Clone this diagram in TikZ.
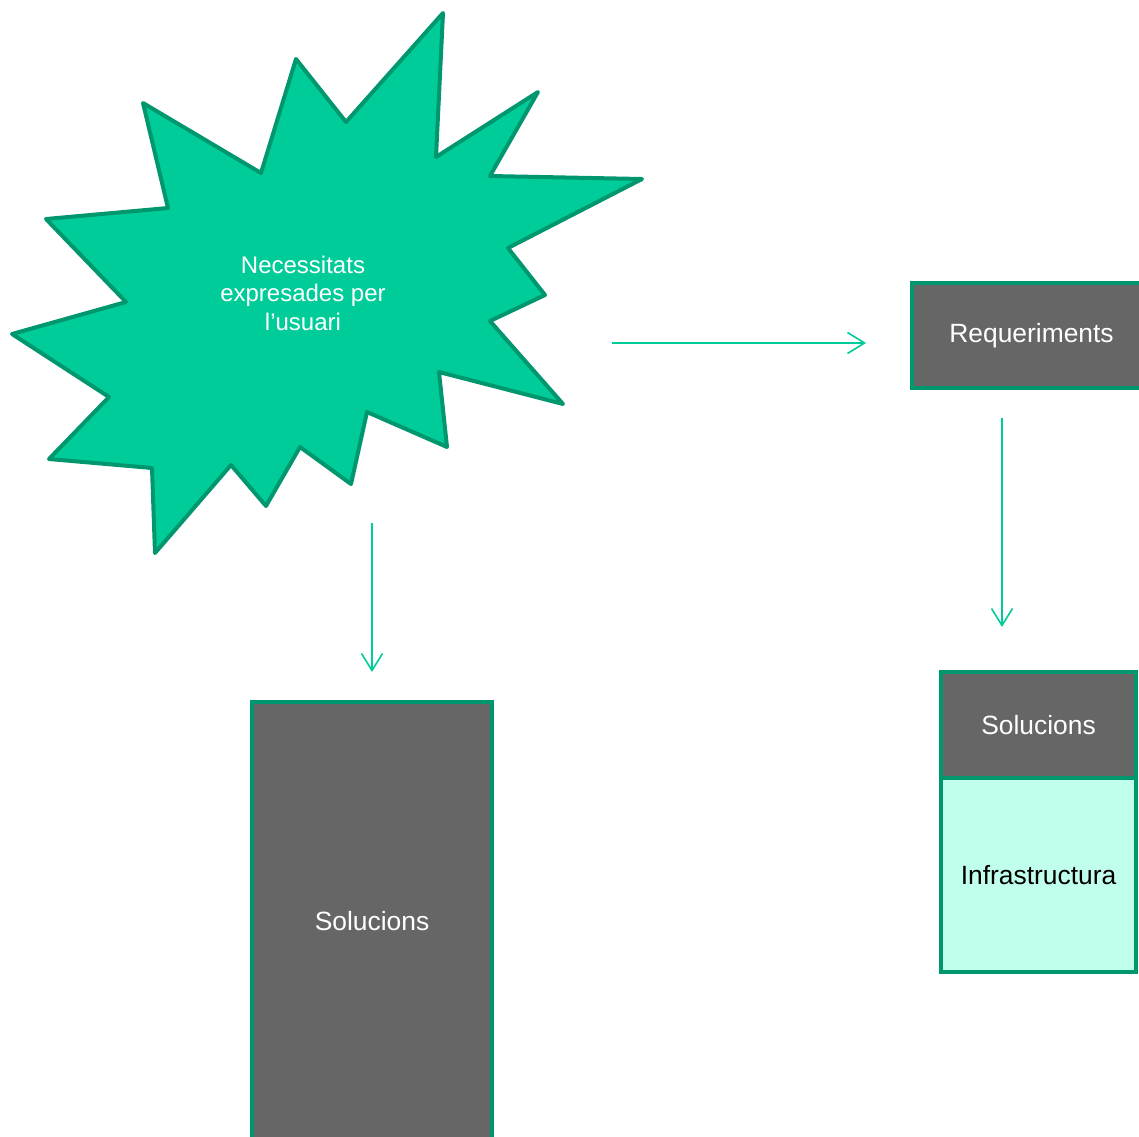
\documentclass[tikz,border=0pt]{standalone}
\usepackage{fontspec}
\setmainfont{Liberation Sans}
\usetikzlibrary{arrows.meta}
\definecolor{starfill}{RGB}{0,204,153}
\definecolor{edgegreen}{RGB}{0,150,110}
\definecolor{arrowgreen}{RGB}{0,204,153}
\definecolor{boxgray}{RGB}{102,102,102}
\definecolor{mint}{RGB}{192,255,236}
\tikzset{
  starshape/.style={fill=starfill, draw=edgegreen, line width=4pt, line join=round},
  graybox/.style={rectangle, fill=boxgray, draw=edgegreen, line width=4pt, inner sep=0pt,
    text=white, font=\fontsize{26.4}{31}\selectfont},
  mintbox/.style={rectangle, fill=mint, draw=edgegreen, line width=4pt, inner sep=0pt,
    text=black, font=\fontsize{26.4}{31}\selectfont},
  flow/.style={draw=arrowgreen, line width=1.6pt, -{Straight Barb[length=17pt,width=21pt,line width=1.6pt]}},
}
\begin{document}
\begin{tikzpicture}[x=1pt,y=-1pt]
\useasboundingbox (0,0) rectangle (1139,1136);
% star
\draw[starshape] (443,13) -- (436,157) -- (538,92) -- (490,176) -- (642,179) -- (508,248)
  -- (545,295) -- (490,321) -- (563,404) -- (439,372) -- (447,447) -- (367,412)
  -- (351,484) -- (300,447) -- (266,506) -- (231,465) -- (155,553) -- (152,468)
  -- (49,459) -- (109,397) -- (12,334) -- (126,302) -- (46,219) -- (168,208)
  -- (143,103) -- (261,173) -- (296,59) -- (346,122) -- cycle;
\node[align=center, text=white, font=\fontsize{24}{28.5}\selectfont] (needs) at (303,293)
  {Necessitats\\expresades per\\l’usuari};
% boxes
\node[graybox, minimum width=239pt, minimum height=105pt] (req) at (1031.5,335.5) {Requeriments};
\node[graybox, minimum width=195pt, minimum height=106pt] (sol2) at (1038.5,725) {Solucions};
\node[mintbox, minimum width=195pt, minimum height=194pt] (infra) at (1038.5,875) {Infrastructura};
\node[graybox, minimum width=240pt, minimum height=438pt] (sol1) at (372,921) {Solucions};
% connector ends
\coordinate (a1s) at (612,343);
\coordinate (a1e) at (866,343);
\coordinate (a2s) at (1002,418);
\coordinate (a2e) at (1002,627);
\coordinate (a3s) at (372,523);
\coordinate (a3e) at (372,672);
\draw[flow] (a1s) -- (a1e);
\draw[flow] (a2s) -- (a2e);
\draw[flow] (a3s) -- (a3e);
\end{tikzpicture}
\end{document}
